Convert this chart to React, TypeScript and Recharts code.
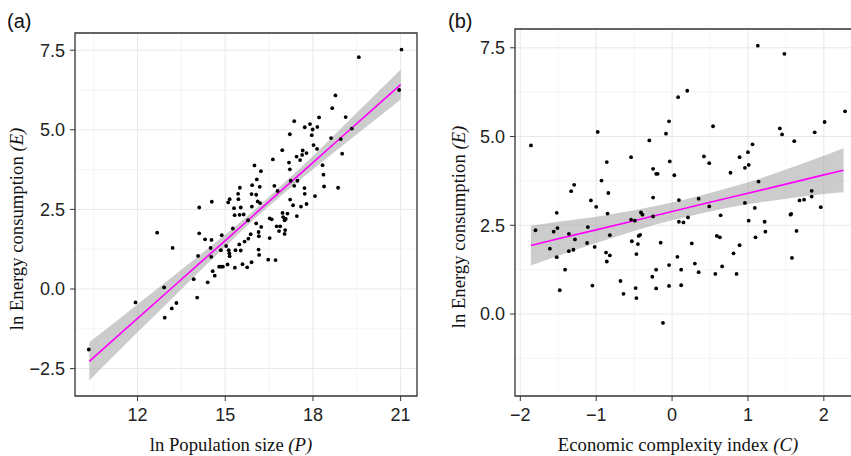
import React from 'react';
import { ComposedChart, Scatter, Line, Area, XAxis, YAxis, CartesianGrid, ReferenceArea } from 'recharts';

// (a) ln population size vs ln energy consumption
const popX = [
  21.03, 19.57, 20.95, 18.77, 18.66, 19.12, 18.21, 17.36, 17.9, 17.72, 18.15, 17.99, 17.21, 17.96, 18.62, 18.95,
  19.33, 18.02, 18.14, 16.95, 17.65, 17.44, 17.78, 17.63, 19.0, 16.63, 17.56, 17.18,
  16.0, 17.21, 16.22, 18.33, 18.36, 16.08, 15.92, 16.18, 16.68, 15.5, 17.36, 17.47, 17.24, 18.38, 18.86, 16.79,
  17.71, 17.72, 18.07, 15.44, 15.9, 16.06, 15.15, 15.45, 16.11, 16.19, 15.1, 14.54, 17.22, 17.32, 17.59, 17.78,
  14.11, 15.3, 15.53, 15.91, 15.32, 15.49, 15.63, 16.96, 17.13, 17.45, 15.78, 16.06, 16.52, 16.59, 16.98, 17.07,
  17.03, 16.23, 16.76, 16.88, 16.84, 17.05, 17.03, 15.26, 16.14, 16.15, 15.87, 15.79, 15.66, 16.52, 14.11, 14.31,
  14.53, 14.88, 13.2, 14.5, 14.85, 15.12, 15.14, 15.15, 15.35, 15.53, 15.03, 15.48, 16.14, 16.16, 14.07, 14.52,
  16.47, 16.72, 15.9, 15.59, 15.08, 15.33, 15.75, 14.79, 14.86, 14.92, 14.57, 14.64, 13.92,
  12.67, 14.4, 14.04, 12.91, 11.93, 13.33, 13.17, 12.93, 10.33,
];
const popE = [
  7.52, 7.28, 6.25, 6.08, 5.68, 5.4, 5.39, 5.27, 5.18, 5.08, 5.09, 5.01, 4.86, 4.83, 4.74, 4.71,
  5.04, 4.52, 4.4, 4.36, 4.35, 4.16, 4.27, 4.21, 4.25, 4.07, 4.05, 3.97,
  3.88, 3.76, 3.7, 3.89, 3.59, 3.44, 3.26, 3.21, 3.24, 3.18, 3.24, 3.4, 3.4, 3.22, 3.18, 3.08,
  3.17, 2.99, 2.92, 2.99, 2.98, 2.96, 2.82, 2.82, 2.75, 2.7, 2.72, 2.74, 2.81, 2.63, 2.59, 2.67,
  2.56, 2.54, 2.56, 2.59, 2.32, 2.33, 2.34, 2.39, 2.37, 2.29, 2.16, 2.06, 2.22, 2.19, 2.26, 2.2,
  2.16, 1.95, 1.97, 1.97, 1.82, 1.85, 1.73, 1.9, 1.79, 1.66, 1.72, 1.58, 1.49, 1.6, 1.75, 1.56,
  1.54, 1.69, 1.29, 1.29, 1.22, 1.22, 1.12, 1.03, 1.22, 1.21, 1.35, 1.4, 1.24, 1.07, 1.04, 1.01,
  0.92, 0.91, 0.84, 0.78, 0.77, 0.67, 0.68, 0.7, 0.7, 0.7, 0.56, 0.42, 0.31,
  1.77, 0.21, -0.27, 0.05, -0.42, -0.44, -0.61, -0.9, -1.9,
];
// fitted line and confidence band
const popFitX = [10.35, 11, 12, 13, 14, 15, 16, 17, 18, 19, 20, 21];
const popFit = [-2.27, -1.74, -0.92, -0.11, 0.71, 1.52, 2.34, 3.16, 3.97, 4.79, 5.6, 6.42];
const popLow = [-2.87, -2.27, -1.36, -0.46, 0.45, 1.33, 2.2, 3.0, 3.76, 4.5, 5.22, 5.95];
const popHigh = [-1.67, -1.21, -0.48, 0.24, 0.97, 1.71, 2.48, 3.32, 4.18, 5.08, 5.98, 6.89];

// (b) economic complexity index vs ln energy consumption
const eciX = [
  1.13, 1.48, 0.2, 0.08, 2.28, -0.04, 2.01, 0.54, -0.98, -0.08, 1.42, 1.45, 1.88, 1.61, -0.3, -1.86,
  1.06, 1.0, -0.54, 0.42, 0.89, -0.03, -0.86, 0.49, -0.25, 0.96, 1.01, -0.21, -0.19, 0.03, 0.77,
  -1.33, -1.29, -0.93, -0.84, 1.14, -0.25, -1.07, 0.09, 0.35, 1.68, 1.74, 1.84, 1.84, -1.0, -0.85,
  -1.52, -0.41, -0.39, -0.25, 0.49, 0.96, 1.09, 1.57, 1.56, 1.96, 0.64, -0.54, -0.49, 0.09, 0.15,
  0.21, 1.01, 1.22, -1.11, -1.8, -1.56, -1.51, -1.36, -0.82, -1.28, -1.61, -1.52, -1.36, -1.3, -1.12,
  -1.02, -0.87, -0.82, -0.86, -1.41, -0.53, -0.45, -0.44, -0.42, -0.47, -0.15, 0.26, 0.07, -0.04,
  -0.21, 0.12, 0.3, 0.35, 0.59, 0.63, 0.89, 0.81, 0.66, 1.1, 1.23, 1.64, 1.58, 0.57, 0.85,
  -0.26, -1.48, -1.05, -0.68, -0.64, -0.48, -0.47, -0.21, -0.04, 0.12, -0.12,
];
const eciE = [
  7.56, 7.33, 6.29, 6.11, 5.71, 5.43, 5.41, 5.29, 5.13, 5.08, 5.23, 5.06, 5.12, 4.87, 4.89, 4.75,
  4.78, 4.56, 4.42, 4.44, 4.42, 4.3, 4.28, 4.25, 4.09, 4.12, 4.2, 3.95, 3.95, 3.91, 3.98,
  3.46, 3.64, 3.76, 3.41, 3.73, 3.28, 3.2, 3.21, 3.25, 3.2, 3.22, 3.31, 3.47, 3.02, 2.83,
  2.85, 2.86, 2.8, 2.75, 3.03, 3.13, 2.99, 2.82, 2.8, 3.01, 2.78, 2.66, 2.63, 2.6, 2.58,
  2.72, 2.63, 2.6, 2.45, 2.36, 2.32, 2.42, 2.26, 2.22, 2.1, 1.84, 1.6, 1.77, 1.81, 2.0,
  1.89, 1.73, 1.65, 1.48, 1.25, 2.05, 1.97, 2.2, 2.23, 1.69, 2.01, 1.99, 1.61, 1.38,
  1.25, 1.25, 1.42, 1.18, 2.2, 2.16, 1.94, 1.71, 1.34, 2.16, 2.32, 2.34, 1.58, 1.13, 1.13,
  1.05, 0.67, 0.8, 0.93, 0.57, 0.73, 0.45, 0.72, 0.79, 0.81, -0.25,
];
const eciFitX = [-1.86, -1.5, -1, -0.5, 0, 0.5, 1, 1.5, 2, 2.26];
const eciFit = [1.93, 2.12, 2.37, 2.63, 2.89, 3.15, 3.4, 3.66, 3.92, 4.05];
const eciLow = [1.37, 1.64, 2.0, 2.34, 2.64, 2.89, 3.09, 3.25, 3.38, 3.43];
const eciHigh = [2.49, 2.6, 2.74, 2.92, 3.14, 3.41, 3.71, 4.07, 4.46, 4.67];

const popXTicks = [12, 15, 18, 21];
const popXMinor = [10.5, 13.5, 16.5, 19.5];
const popYTicks = [-2.5, 0, 2.5, 5, 7.5];
const popYMinor = [-1.25, 1.25, 3.75, 6.25];
const eciXTicks = [-2, -1, 0, 1, 2];
const eciXMinor = [-1.5, -0.5, 0.5, 1.5];
const eciYTicks = [0, 2.5, 5, 7.5];
const eciYMinor = [-1.25, 1.25, 3.75, 6.25];

const sans = '"Liberation Sans", Arial, Helvetica, sans-serif';
const serif = '"Liberation Serif", "Times New Roman", serif';
const tickStyle = { fontSize: 18, fill: '#222', fontFamily: sans };
const fmt0 = (v: number) => String(v).replace('-', '\u2212');
const fmt1 = (v: number) => v.toFixed(1).replace('-', '\u2212');

const Dot = (p: any) => <circle cx={p.cx} cy={p.cy} r={1.9} fill="#000" />;

type PanelProps = {
  width: number;
  margin: { top: number; right: number; bottom: number; left: number };
  yAxisWidth: number;
  xDomain: [number, number];
  yDomain: [number, number];
  xTicks: number[];
  xMinor: number[];
  yTicks: number[];
  yMinor: number[];
  xFmt: (v: number) => string;
  points: { x: number; y: number }[];
  fit: { x: number; fit: number; band: [number, number] }[];
};

const Panel = (p: PanelProps) => (
  <ComposedChart width={p.width} height={456} margin={p.margin} data={p.fit}>
    <CartesianGrid
      stroke="#F3F3F3"
      strokeWidth={0.8}
      horizontalValues={p.yMinor}
      verticalValues={p.xMinor}
    />
    <CartesianGrid
      stroke="#E8E8E8"
      strokeWidth={1}
      horizontalValues={p.yTicks}
      verticalValues={p.xTicks}
    />
    <XAxis
      type="number"
      dataKey="x"
      domain={p.xDomain}
      ticks={p.xTicks}
      allowDataOverflow
      height={60}
      axisLine={false}
      tickLine={{ stroke: '#333' }}
      tickSize={5}
      tickMargin={7}
      tick={tickStyle}
      tickFormatter={p.xFmt}
    />
    <YAxis
      type="number"
      domain={p.yDomain}
      ticks={p.yTicks}
      allowDataOverflow
      width={p.yAxisWidth}
      axisLine={false}
      tickLine={{ stroke: '#333' }}
      tickSize={5}
      tickMargin={5}
      tick={tickStyle}
      tickFormatter={fmt1}
    />
    <Area
      type="monotone"
      dataKey="band"
      stroke="none"
      fill="#999999"
      fillOpacity={0.5}
      isAnimationActive={false}
    />
    <Scatter data={p.points} dataKey="y" shape={Dot} isAnimationActive={false} />
    <Line
      type="linear"
      dataKey="fit"
      stroke="#FF00FF"
      strokeWidth={1.6}
      dot={false}
      isAnimationActive={false}
    />
    <ReferenceArea
      x1={p.xDomain[0]}
      x2={p.xDomain[1]}
      y1={p.yDomain[0]}
      y2={p.yDomain[1]}
      fill="none"
      stroke="#333"
      strokeWidth={1.3}
      ifOverflow="visible"
    />
  </ComposedChart>
);

const Title = ({ x, y, rotate, main, sym }: { x: number; y: number; rotate?: boolean; main: string; sym: string }) => (
  <div
    style={{
      position: 'absolute',
      left: x,
      top: y,
      transform: `translate(-50%, -50%)${rotate ? ' rotate(-90deg)' : ''}`,
      whiteSpace: 'nowrap',
      fontFamily: serif,
      fontSize: 18.7,
      lineHeight: 1,
      color: '#111',
    }}
  >
    {main}
    <i>{sym}</i>
  </div>
);

const Tag = ({ x, text }: { x: number; text: string }) => (
  <div
    style={{
      position: 'absolute',
      left: x,
      top: 11,
      fontFamily: sans,
      fontSize: 20,
      lineHeight: 1,
      color: '#111',
    }}
  >
    {text}
  </div>
);

export default function App() {
  const popPoints = popX.map((x, i) => ({ x, y: popE[i] }));
  const popBand = popFitX.map((x, i) => ({ x, fit: popFit[i], band: [popLow[i], popHigh[i]] as [number, number] }));
  const eciPoints = eciX.map((x, i) => ({ x, y: eciE[i] }));
  const eciBand = eciFitX.map((x, i) => ({ x, fit: eciFit[i], band: [eciLow[i], eciHigh[i]] as [number, number] }));

  return (
    <div
      style={{
        position: 'fixed',
        left: 0,
        top: 0,
        width: 851,
        height: 456,
        overflow: 'hidden',
        background: '#fff',
      }}
    >
      <div style={{ position: 'absolute', left: 0, top: 0 }}>
        <Panel
          width={430}
          margin={{ top: 33, right: 13, bottom: 0, left: 0 }}
          yAxisWidth={75}
          xDomain={[9.86, 21.56]}
          yDomain={[-3.36, 8.04]}
          xTicks={popXTicks}
          xMinor={popXMinor}
          yTicks={popYTicks}
          yMinor={popYMinor}
          xFmt={fmt0}
          points={popPoints}
          fit={popBand}
        />
      </div>
      <div style={{ position: 'absolute', left: 430, top: 0 }}>
        <Panel
          width={440}
          margin={{ top: 29, right: 9, bottom: 0, left: 0 }}
          yAxisWidth={85}
          xDomain={[-2.07, 2.49]}
          yDomain={[-2.31, 8.03]}
          xTicks={eciXTicks}
          xMinor={eciXMinor}
          yTicks={eciYTicks}
          yMinor={eciYMinor}
          xFmt={fmt0}
          points={eciPoints}
          fit={eciBand}
        />
      </div>
      <Tag x={7} text="(a)" />
      <Tag x={448} text="(b)" />
      <Title x={231} y={445} main="ln Population size " sym="(P)" />
      <Title x={17} y={229} rotate main="ln Energy consumption " sym="(E)" />
      <Title x={678} y={445} main="Economic complexity index " sym="(C)" />
      <Title x={459} y={227} rotate main="ln Energy consumption " sym="(E)" />
    </div>
  );
}
